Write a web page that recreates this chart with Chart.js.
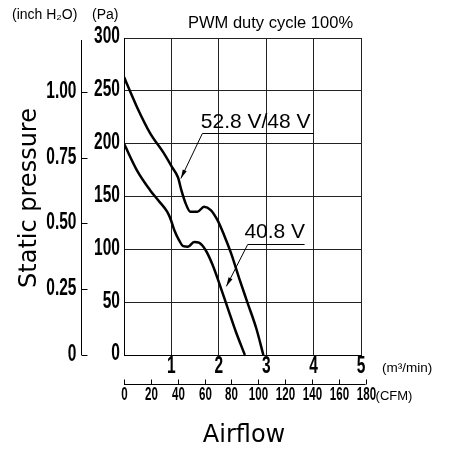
<!DOCTYPE html>
<html>
<head>
<meta charset="utf-8">
<script src="https://cdn.jsdelivr.net/npm/chart.js@4.4.1/dist/chart.umd.min.js"></script>
<style>
  html, body { margin: 0; padding: 0; background: #fff; }
  #wrap { width: 451px; height: 450px; }
</style>
</head>
<body>
<div id="wrap"><canvas id="pq" width="451" height="450"></canvas></div>
<script>
// airflow (m3/min) / static pressure (Pa)
var flow528 = [0, 0.27, 0.55, 0.84, 1.01, 1.14, 1.21, 1.30, 1.40, 1.55, 1.69, 1.83, 1.97, 2.11, 2.26, 2.43, 2.61, 2.79, 2.94];
var pres528 = [263, 235, 210, 191, 178, 168, 156, 143.5, 135.6, 135.6, 140.3, 137.2, 127.8, 113.6, 96.2, 72.6, 48.9, 25.3, 0];
var flow408 = [0, 0.27, 0.55, 0.73, 0.91, 0.99, 1.06, 1.16, 1.25, 1.35, 1.48, 1.58, 1.72, 1.87, 2.01, 2.19, 2.36, 2.55];
var pres408 = [200, 175, 156, 146, 135.6, 127.8, 118.3, 108.8, 103, 102.5, 107, 106.3, 99.4, 85.2, 67.8, 44.2, 22, 0];

var flowTicks = [1, 2, 3, 4, 5];
var paTicks = [0, 50, 100, 150, 200, 250, 300];
var inchTicks = [0, 0.25, 0.5, 0.75, 1.0];
var inchLabels = ["0", "0.25", "0.50", "0.75", "1.00"];
var cfmTicks = [0, 20, 40, 60, 80, 100, 120, 140, 160, 180];

var PA_PER_INCH = 249.09;
var CFM_PER_M3 = 35.3147;

// callouts: label, text anchor, leader end, arrow tip (data units)
var callouts = [
  { text: "52.8 V/48 V", tx: 1.62, ty: 214.8, lx0: 1.653, lx1: 4.0, ly: 209.8, ax: 1.20, ay: 167 },
  { text: "40.8 V", tx: 2.54, ty: 110.4, lx0: 2.61, lx1: 3.81, ly: 105.0, ax: 2.16, ay: 65 }
];

var SANS = '"Liberation Sans", Arial, sans-serif';

function narrowText(ctx, txt, x, y, size, sx, align, weight) {
  ctx.save();
  ctx.translate(x, y);
  ctx.scale(sx, 1);
  ctx.font = (weight || "bold") + " " + size + "px " + SANS;
  ctx.textAlign = align;
  ctx.textBaseline = "middle";
  ctx.fillStyle = "#000";
  ctx.fillText(txt, 0, 0);
  ctx.restore();
}

function arrow(ctx, x0, y0, x1, y1) {
  ctx.beginPath();
  ctx.moveTo(x0, y0);
  ctx.lineTo(x1, y1);
  ctx.stroke();
  var ang = Math.atan2(y1 - y0, x1 - x0);
  var len = 9, w = 2.2;
  ctx.beginPath();
  ctx.moveTo(x1, y1);
  ctx.lineTo(x1 - len * Math.cos(ang) + w * Math.sin(ang), y1 - len * Math.sin(ang) - w * Math.cos(ang));
  ctx.lineTo(x1 - len * Math.cos(ang) - w * Math.sin(ang), y1 - len * Math.sin(ang) + w * Math.cos(ang));
  ctx.closePath();
  ctx.fill();
}

var decor = {
  id: "decor",
  afterDraw: function (chart) {
    var ctx = chart.ctx;
    var xs = chart.scales.x, ys = chart.scales.y;
    var area = chart.chartArea;
    ctx.save();
    ctx.fillStyle = "#000";
    ctx.strokeStyle = "#000";

    // Pa labels
    paTicks.forEach(function (v) {
      narrowText(ctx, String(v), area.left - 4, ys.getPixelForValue(v) - 1, 23.5, 0.66, "right");
    });
    // m3/min labels
    flowTicks.forEach(function (v) {
      narrowText(ctx, String(v), xs.getPixelForValue(v), area.bottom + 12, 23.5, 0.66, "center");
    });
    ctx.font = "13.5px " + SANS;
    ctx.textAlign = "left";
    ctx.textBaseline = "middle";
    ctx.fillText("(m\u00b3/min)", area.right + 21, area.bottom + 13);

    // inch H2O axis
    var ix = 81.5;
    ctx.lineWidth = 1;
    ctx.beginPath();
    ctx.moveTo(ix, ys.getPixelForValue(300) + 2);
    ctx.lineTo(ix, ys.getPixelForValue(0));
    ctx.stroke();
    inchTicks.forEach(function (v, i) {
      var py = Math.round(ys.getPixelForValue(v * PA_PER_INCH)) + 0.5;
      ctx.beginPath();
      ctx.moveTo(ix, py);
      ctx.lineTo(ix + 6, py);
      ctx.stroke();
      narrowText(ctx, inchLabels[i], ix - 5, py - 1, 23.5, 0.66, "right");
    });

    // CFM axis
    var cy = 384.5;
    var cfmEnd = xs.getPixelForValue(180 / CFM_PER_M3);
    ctx.beginPath();
    ctx.moveTo(xs.getPixelForValue(0), cy);
    ctx.lineTo(cfmEnd, cy);
    ctx.stroke();
    cfmTicks.forEach(function (v) {
      var px = Math.round(xs.getPixelForValue(v / CFM_PER_M3)) + 0.5;
      ctx.beginPath();
      ctx.moveTo(px, cy);
      ctx.lineTo(px, cy - 5);
      ctx.stroke();
      narrowText(ctx, String(v), px, cy + 11, 17.5, 0.66, "center");
    });
    ctx.font = "13px " + SANS;
    ctx.textAlign = "left";
    ctx.textBaseline = "middle";
    ctx.fillText("(CFM)", cfmEnd + 10, cy + 12);

    // unit headers and title
    ctx.font = "14px " + SANS;
    ctx.textBaseline = "middle";
    ctx.fillText("(inch H\u2082O)", 12, 15);
    ctx.fillText("(Pa)", 92, 15);
    ctx.font = "16.5px " + SANS;
    ctx.textBaseline = "alphabetic";
    ctx.fillText("PWM duty cycle 100%", 188, 28);

    // axis titles
    ctx.font = '24px "DejaVu Sans", sans-serif';
    ctx.textAlign = "center";
    ctx.textBaseline = "middle";
    ctx.fillText("Airflow", 244, 436);
    ctx.save();
    ctx.translate(30, 198);
    ctx.rotate(-Math.PI / 2);
    ctx.fillText("Static pressure", 0, 0);
    ctx.restore();

    // callouts
    ctx.lineWidth = 1;
    callouts.forEach(function (c) {
      ctx.font = "21px " + SANS;
      ctx.textAlign = "left";
      ctx.textBaseline = "alphabetic";
      ctx.fillText(c.text, xs.getPixelForValue(c.tx), ys.getPixelForValue(c.ty));
      var ly = Math.round(ys.getPixelForValue(c.ly)) + 0.5;
      ctx.beginPath();
      ctx.moveTo(xs.getPixelForValue(c.lx0), ly);
      ctx.lineTo(xs.getPixelForValue(c.lx1), ly);
      ctx.stroke();
      arrow(ctx, xs.getPixelForValue(c.lx0), ly, xs.getPixelForValue(c.ax), ys.getPixelForValue(c.ay));
    });
    ctx.restore();
  }
};

function pts(xa, ya) {
  return xa.map(function (x, i) { return { x: x, y: ya[i] }; });
}

new Chart(document.getElementById("pq"), {
  type: "scatter",
  data: {
    datasets: [
      { data: pts(flow528, pres528), showLine: true, borderColor: "#000", borderWidth: 2.5, pointRadius: 0, cubicInterpolationMode: "monotone" },
      { data: pts(flow408, pres408), showLine: true, borderColor: "#000", borderWidth: 2.5, pointRadius: 0, cubicInterpolationMode: "monotone" }
    ]
  },
  options: {
    responsive: false,
    animation: false,
    events: [],
    layout: { padding: { left: 124, right: 90, top: 38, bottom: 95 } },
    plugins: { legend: { display: false }, tooltip: { enabled: false } },
    scales: {
      x: {
        type: "linear", min: 0, max: 5,
        ticks: { display: false, stepSize: 1 },
        grid: { color: "#222", lineWidth: 1, drawTicks: false },
        border: { color: "#000", width: 1 },
        afterFit: function (s) { s.height = 0; }
      },
      y: {
        min: 0, max: 300,
        ticks: { display: false, stepSize: 50 },
        grid: { color: "#222", lineWidth: 1, drawTicks: false },
        border: { color: "#000", width: 1 },
        afterFit: function (s) { s.width = 0; }
      }
    }
  },
  plugins: [decor]
});
</script>
</body>
</html>
